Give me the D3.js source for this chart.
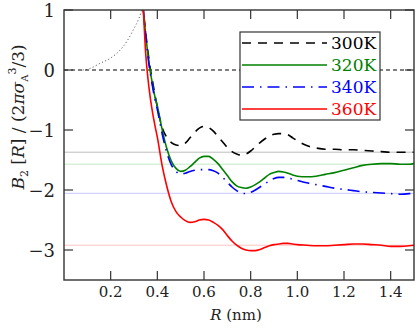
<!DOCTYPE html>
<meta charset="utf-8">
<head>
<title>Second virial coefficient B2[R]</title>
<script src="https://d3js.org/d3.v7.min.js"></script>
<style>
body { margin: 0; background: #fff; }
</style>
</head>
<body>
<script>
// R grid (nm) shared by all four temperature curves
const R = [0.33, 0.34, 0.35, 0.36, 0.37, 0.38, 0.39, 0.40, 0.42, 0.44, 0.46, 0.48, 0.50,
  0.52, 0.54, 0.56, 0.58, 0.60, 0.62, 0.64, 0.66, 0.68, 0.70, 0.72, 0.74, 0.76, 0.78,
  0.80, 0.82, 0.84, 0.86, 0.88, 0.90, 0.92, 0.94, 0.96, 0.98, 1.00, 1.04, 1.08, 1.12,
  1.16, 1.20, 1.24, 1.28, 1.32, 1.36, 1.40, 1.44, 1.48, 1.50];

const b300 = [1.4, 1.0, 0.62, 0.3, 0.02, -0.2, -0.42, -0.62, -0.95, -1.12, -1.21, -1.25, -1.26,
  -1.22, -1.13, -1.04, -0.97, -0.94, -0.96, -1.02, -1.11, -1.2, -1.29, -1.36, -1.4, -1.42, -1.4,
  -1.35, -1.28, -1.21, -1.15, -1.1, -1.07, -1.06, -1.06, -1.08, -1.13, -1.18, -1.26, -1.3, -1.32,
  -1.32, -1.33, -1.33, -1.34, -1.35, -1.36, -1.37, -1.37, -1.37, -1.37];

const b320 = [1.5, 1.0, 0.6, 0.25, -0.03, -0.25, -0.45, -0.6, -0.98, -1.3, -1.52, -1.64, -1.69,
  -1.67, -1.61, -1.54, -1.47, -1.44, -1.44, -1.49, -1.56, -1.66, -1.76, -1.86, -1.93, -1.96, -1.97,
  -1.95, -1.91, -1.86, -1.8, -1.74, -1.71, -1.69, -1.7, -1.72, -1.75, -1.77, -1.78, -1.77, -1.74,
  -1.71, -1.67, -1.63, -1.59, -1.57, -1.56, -1.56, -1.57, -1.57, -1.56];

const b340 = [1.5, 1.0, 0.58, 0.22, -0.06, -0.29, -0.5, -0.66, -1.05, -1.37, -1.58, -1.69, -1.73,
  -1.72, -1.69, -1.67, -1.66, -1.66, -1.66, -1.68, -1.72, -1.79, -1.87, -1.95, -2.01, -2.05, -2.06,
  -2.04, -2.0, -1.95, -1.9, -1.85, -1.81, -1.79, -1.79, -1.8, -1.82, -1.84, -1.88, -1.91, -1.94,
  -1.97, -1.99, -2.01, -2.03, -2.04, -2.05, -2.06, -2.07, -2.06, -2.05];

const b360 = [1.6, 1.0, 0.28, -0.15, -0.47, -0.72, -0.93, -1.12, -1.58, -1.93, -2.2, -2.36, -2.45,
  -2.51, -2.54, -2.53, -2.5, -2.49, -2.5, -2.54, -2.59, -2.66, -2.76, -2.85, -2.92, -2.97, -3.0,
  -3.01, -3.01, -2.99, -2.96, -2.93, -2.91, -2.9, -2.89, -2.89, -2.9, -2.91, -2.92, -2.93, -2.93,
  -2.92, -2.91, -2.9, -2.9, -2.91, -2.92, -2.94, -2.94, -2.93, -2.92];

// hard-core reference curve (dotted)
const coreR = [0.08, 0.10, 0.12, 0.154, 0.20, 0.24, 0.27, 0.297, 0.32, 0.334, 0.345];
const coreB = [0, 0.01, 0.04, 0.11, 0.2, 0.33, 0.48, 0.67, 0.85, 1.0, 1.1];

// long-range limits, one per temperature
const limits = [-1.37, -1.57, -2.055, -2.92];

const labels = ["300K", "320K", "340K", "360K"];
const colors = ["#000000", "#008000", "#0000ff", "#ff0000"];
const limitColors = ["#bdbdbd", "#c6e8c6", "#c8c8ff", "#ffc4c4"];
const dashes = ["9,7", null, "12,6,1.5,6", null];

const xTicks = [0.2, 0.4, 0.6, 0.8, 1.0, 1.2, 1.4];
const yTicks = [-3, -2, -1, 0, 1];

const series = [b300, b320, b340, b360];

const W = 415, H = 334;
const margin = {top: 10, right: 1, bottom: 54, left: 64};

const svg = d3.select("body").append("svg")
    .attr("width", W)
    .attr("height", H)
    .attr("font-family", "DejaVu Serif");

const x = d3.scaleLinear().domain([0, 1.5]).range([margin.left, W - margin.right]);
const y = d3.scaleLinear().domain([-3.5, 1]).range([H - margin.bottom, margin.top]);

svg.append("clipPath").attr("id", "plotclip")
  .append("rect")
    .attr("x", x(0)).attr("y", y(1))
    .attr("width", x(1.5) - x(0)).attr("height", y(-3.5) - y(1));

const plot = svg.append("g").attr("clip-path", "url(#plotclip)");

// limit lines
plot.selectAll("line.limit")
  .data(limits)
  .enter().append("line")
    .attr("class", "limit")
    .attr("x1", x(0)).attr("x2", x(1.5))
    .attr("y1", d => y(d)).attr("y2", d => y(d))
    .attr("stroke", (d, i) => limitColors[i])
    .attr("stroke-width", 1);

// zero line
plot.append("line")
    .attr("x1", x(0)).attr("x2", x(1.5))
    .attr("y1", y(0)).attr("y2", y(0))
    .attr("stroke", "#000")
    .attr("stroke-width", 1)
    .attr("stroke-dasharray", "4,3");

const line = d3.line()
    .x(d => x(d[0]))
    .y(d => y(d[1]))
    .curve(d3.curveMonotoneX);

// dotted hard-core curve
plot.append("path")
    .attr("d", line(coreR.map((r, i) => [r, coreB[i]])))
    .attr("fill", "none")
    .attr("stroke", "#444")
    .attr("stroke-width", 1)
    .attr("stroke-dasharray", "1,2.5");

series.forEach((vals, k) => {
  plot.append("path")
      .attr("d", line(R.map((r, i) => [r, vals[i]])))
      .attr("fill", "none")
      .attr("stroke", colors[k])
      .attr("stroke-width", 1.6)
      .attr("stroke-dasharray", dashes[k]);
});

// frame
svg.append("rect")
    .attr("x", x(0)).attr("y", y(1))
    .attr("width", x(1.5) - x(0)).attr("height", y(-3.5) - y(1))
    .attr("fill", "none")
    .attr("stroke", "#333")
    .attr("stroke-width", 1.4);

// inward ticks on all four sides
const tl = 9;
const ax = svg.append("g").attr("stroke", "#333").attr("stroke-width", 1.2);
xTicks.forEach(t => {
  ax.append("line").attr("x1", x(t)).attr("x2", x(t)).attr("y1", y(-3.5)).attr("y2", y(-3.5) - tl);
  ax.append("line").attr("x1", x(t)).attr("x2", x(t)).attr("y1", y(1)).attr("y2", y(1) + tl);
});
yTicks.forEach(t => {
  ax.append("line").attr("x1", x(0)).attr("x2", x(0) + tl).attr("y1", y(t)).attr("y2", y(t));
  ax.append("line").attr("x1", x(1.5)).attr("x2", x(1.5) - tl).attr("y1", y(t)).attr("y2", y(t));
});

svg.selectAll("text.xt")
  .data(xTicks)
  .enter().append("text")
    .attr("class", "xt")
    .attr("x", d => x(d))
    .attr("y", 297)
    .attr("text-anchor", "middle")
    .attr("font-size", 15)
    .attr("fill", "#222")
    .text(d => d3.format(".1f")(d));

svg.selectAll("text.yt")
  .data(yTicks)
  .enter().append("text")
    .attr("class", "yt")
    .attr("x", 55)
    .attr("y", d => y(d) + 7)
    .attr("text-anchor", "end")
    .attr("font-size", 18)
    .attr("fill", "#222")
    .text(d => d < 0 ? "\u2212" + Math.abs(d) : d);

// x axis title
const xl = svg.append("text")
    .attr("x", (x(0) + x(1.5)) / 2 - 3)
    .attr("y", 320)
    .attr("text-anchor", "middle")
    .attr("font-size", 15)
    .attr("fill", "#222");
xl.append("tspan").attr("font-style", "italic").text("R");
xl.append("tspan").text(" (nm)");

// y axis title
const yl = svg.append("text")
    .attr("transform", "translate(24,117) rotate(-90)")
    .attr("text-anchor", "middle")
    .attr("font-size", 17)
    .attr("fill", "#222");
yl.append("tspan").attr("font-style", "italic").text("B");
yl.append("tspan").attr("font-size", 11).attr("dy", 4).text("2");
yl.append("tspan").attr("dy", -4).text(" [");
yl.append("tspan").attr("font-style", "italic").text("R");
yl.append("tspan").text("] / (2");
yl.append("tspan").attr("font-style", "italic").text("\u03c0\u03c3");
yl.append("tspan").attr("font-size", 10).attr("dy", 4).text("A");
yl.append("tspan").attr("font-size", 11).attr("dy", -12).text("3");
yl.append("tspan").attr("dy", 8).text("/3)");

// legend
const lg = svg.append("g").attr("transform", "translate(240,32)");
lg.append("rect")
    .attr("width", 140).attr("height", 88)
    .attr("fill", "#fff")
    .attr("stroke", "#333")
    .attr("stroke-width", 1.2);
labels.forEach((lab, k) => {
  const yy = 11 + k * 22;
  lg.append("line")
      .attr("x1", 2).attr("x2", 87)
      .attr("y1", yy).attr("y2", yy)
      .attr("stroke", colors[k])
      .attr("stroke-width", 1.6)
      .attr("stroke-dasharray", dashes[k]);
  lg.append("text")
      .attr("x", 91)
      .attr("y", yy + 6)
      .attr("font-size", 17)
      .attr("fill", colors[k])
      .text(lab);
});
</script>
</body>
</html>
